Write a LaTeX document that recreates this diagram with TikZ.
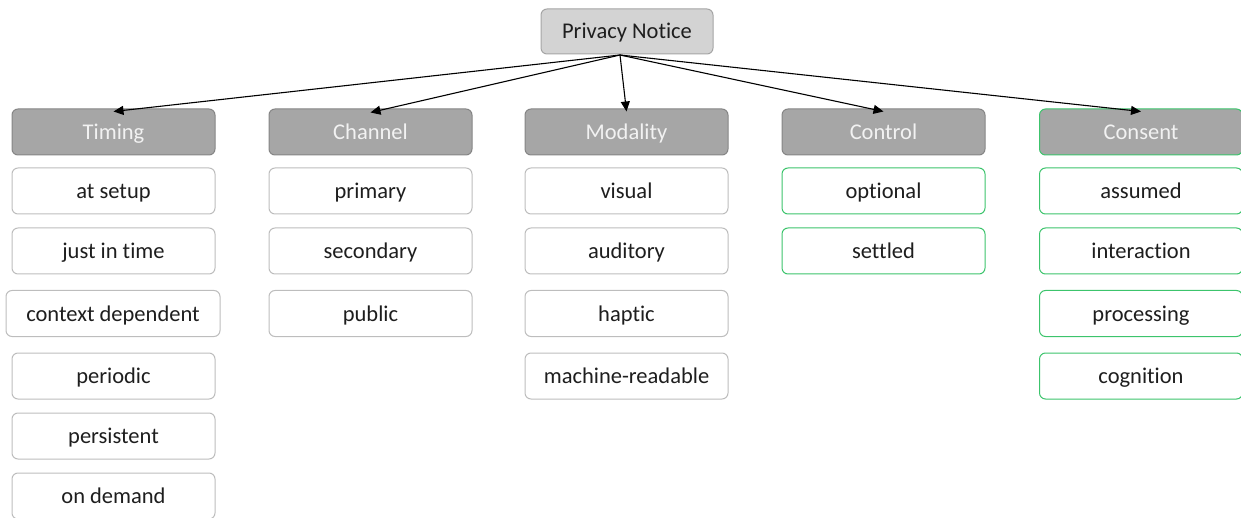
\documentclass[tikz,border=0pt]{standalone}
\usepackage{fontspec}
\setmainfont{Carlito}[Ligatures={NoCommon}]
\usetikzlibrary{arrows.meta}
\definecolor{hdrfill}{HTML}{A6A6A6}
\definecolor{hdrline}{HTML}{858585}
\definecolor{hdrtext}{HTML}{F2F2F2}
\definecolor{rootfill}{HTML}{D3D3D3}
\definecolor{rootline}{HTML}{A5A5A5}
\definecolor{itemline}{HTML}{BDBDBD}
\definecolor{okgreen}{HTML}{3CC46C}
\definecolor{txt}{HTML}{1E1E1E}
\tikzset{
  box/.style={rounded corners=6pt, minimum width=203pt, minimum height=46pt,
    inner sep=0pt, font=\fontsize{22.5}{26}\selectfont, line width=1pt,
    text height=17.5pt, text depth=2.5pt},
  root/.style={box, fill=rootfill, draw=rootline, minimum width=172pt, minimum height=45pt, text=txt},
  head/.style={box, fill=hdrfill, draw=hdrline, text=hdrtext},
  headg/.style={box, fill=hdrfill, draw=okgreen, text=hdrtext},
  item/.style={box, fill=white, draw=itemline, text=txt},
  itemg/.style={box, fill=white, draw=okgreen, text=txt},
  link/.style={-{Triangle[length=10pt,width=9pt]}, line width=1.1pt, black}
}
\begin{document}
\begin{tikzpicture}[x=1pt,y=-1pt]
\useasboundingbox (0,0) rectangle (1241,518);
% root
\node[root] (pn) at (627,31.5) {Privacy Notice};
\coordinate (src) at (620,55);
% headers
\node[head]  (timing)   at (113.5,132) {Timing};
\node[head]  (channel)  at (370.5,132) {Channel};
\node[head]  (modality) at (626.5,132) {Modality};
\node[head]  (control)  at (883.5,132) {Control};
\node[headg] (consent)  at (1141,132) {Consent};
% Timing
\node[item] (t1) at (113.5,191) {at setup};
\node[item] (t2) at (113.5,251) {just in time};
\node[item, minimum width=214pt] (t3) at (113,313.5) {context dependent};
\node[item] (t4) at (113.5,376) {periodic};
\node[item] (t5) at (113.5,436) {persistent};
\node[item] (t6) at (113.5,496) {on demand};
% Channel
\node[item] (c1) at (370.5,191) {primary};
\node[item] (c2) at (370.5,251) {secondary};
\node[item] (c3) at (370.5,313.5) {public};
% Modality
\node[item] (m1) at (626.5,191) {visual};
\node[item] (m2) at (626.5,251) {auditory};
\node[item] (m3) at (626.5,313.5) {haptic};
\node[item] (m4) at (626.5,376) {machine-readable};
% Control
\node[itemg] (k1) at (883.5,191) {optional};
\node[itemg] (k2) at (883.5,251) {settled};
% Consent
\node[itemg] (s1) at (1141,191) {assumed};
\node[itemg] (s2) at (1141,251) {interaction};
\node[itemg] (s3) at (1141,313.5) {processing};
\node[itemg] (s4) at (1141,376) {cognition};
% connectors
\draw[link] (src) -- ([yshift=-3pt]timing.north);
\draw[link] (src) -- ([yshift=-4pt]channel.north);
\draw[link] (src) -- ([yshift=-3pt]modality.north);
\draw[link] (src) -- ([yshift=-3pt]control.north);
\draw[link] (src) -- ([yshift=-3pt]consent.north);
\end{tikzpicture}
\end{document}
